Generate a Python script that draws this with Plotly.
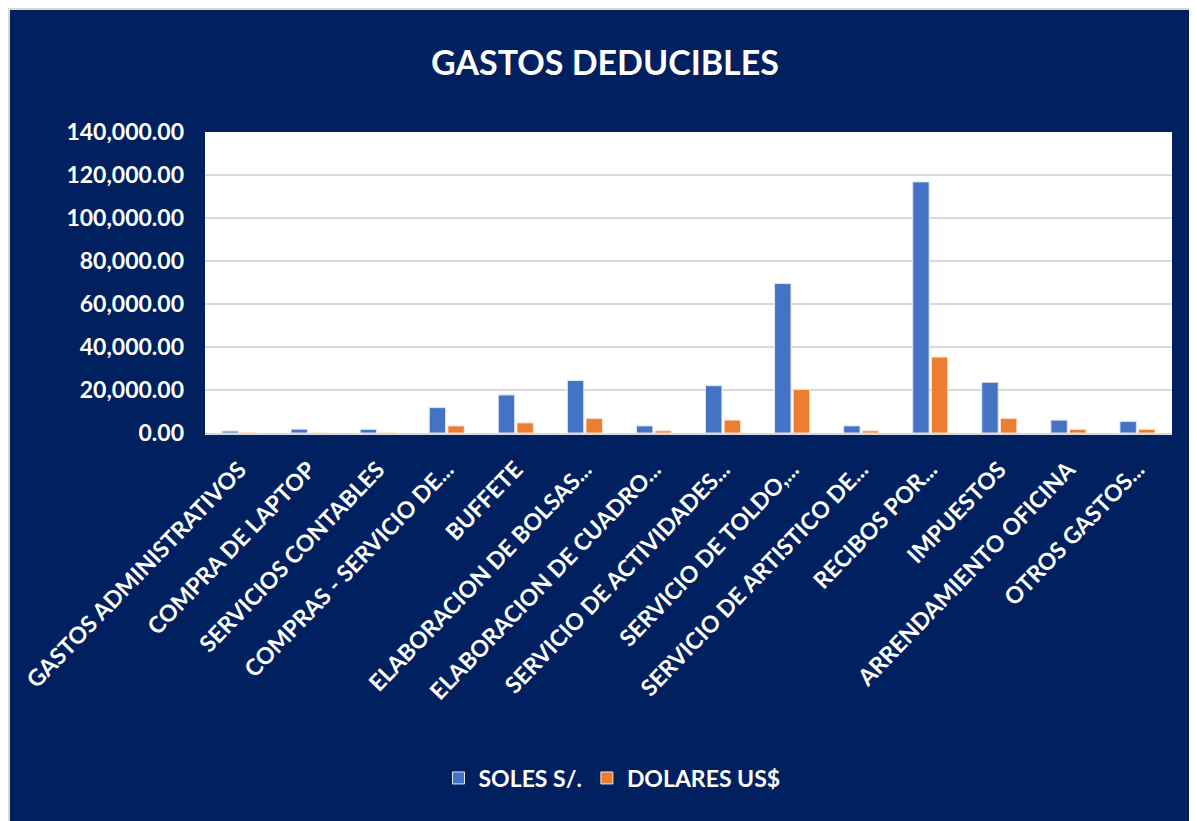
from plotly import graph_objects as go

categorias = [
    "GASTOS ADMINISTRATIVOS",
    "COMPRA DE LAPTOP",
    "SERVICIOS CONTABLES",
    "COMPRAS - SERVICIO DE...",
    "BUFFETE",
    "ELABORACION DE BOLSAS...",
    "ELABORACION DE CUADRO...",
    "SERVICIO DE ACTIVIDADES...",
    "SERVICIO DE TOLDO,...",
    "SERVICIO DE ARTISTICO DE...",
    "RECIBOS POR...",
    "IMPUESTOS",
    "ARRENDAMIENTO OFICINA",
    "OTROS GASTOS...",
]
soles = [900, 1800, 1700, 11800, 17700, 24400, 3300, 22000, 69500, 3300, 116800, 23600, 6000, 5400]
dolares = [200, 0, 0, 3300, 4700, 6800, 1000, 6000, 20300, 1000, 35300, 6800, 1700, 1700]
y_ticks = [0, 20000, 40000, 60000, 80000, 100000, 120000, 140000]

navy = "#002060"
fuente = "Lato"

# the page puts the figure 8px in from the top-left corner
OFF = 8
W, H = 1197 - OFF, 821 - OFF
# plot area in page pixels: x 205..1172, y 132..433
L, R, T, B = 205 - OFF, 1172 - OFF, 132 - OFF, 433 - OFF
pw, ph = R - L, B - T


def px_x(p):
    return (p - OFF - L) / pw


def px_y(p):
    return (B - (p - OFF)) / ph


fig = go.Figure()
fig.add_trace(go.Bar(
    name="SOLES S/.", x=categorias, y=soles,
    marker={"color": "#4472C4", "line": {"color": "#dfe6f5", "width": 1}},
))
fig.add_trace(go.Bar(
    name="DOLARES US$", x=categorias, y=dolares,
    marker={"color": "#ED7D31", "line": {"color": "#fbe3d3", "width": 1}},
))

fig.update_layout(
    width=W, height=H,
    margin={"l": L, "r": W - R, "t": T, "b": H - B},
    paper_bgcolor=navy,
    plot_bgcolor="white",
    barmode="group",
    bargap=0.46,
    bargroupgap=0.12,
    font={"family": fuente, "color": "white", "size": 22},
    title={
        "text": "<b>GASTOS DEDUCIBLES</b>",
        "x": (605 - OFF) / W, "xanchor": "center",
        "y": 1 - (63 - OFF) / H, "yanchor": "middle",
        "font": {"size": 34, "color": "white", "family": fuente},
    },
    legend={
        "orientation": "h",
        "x": px_x(612), "xanchor": "center",
        "y": px_y(778), "yanchor": "middle",
        "font": {"size": 23, "color": "white", "family": fuente, "weight": "bold"},
        "itemwidth": 30,
        "traceorder": "normal",
    },
    shapes=[
        # thin light border at the top and left edge of the chart
        {"type": "rect", "xref": "paper", "yref": "paper",
         "x0": px_x(OFF), "x1": px_x(1197), "y0": px_y(10), "y1": px_y(OFF),
         "fillcolor": "#d9d9d9", "line": {"width": 0}, "layer": "above"},
        {"type": "rect", "xref": "paper", "yref": "paper",
         "x0": px_x(OFF), "x1": px_x(10), "y0": px_y(821), "y1": px_y(OFF),
         "fillcolor": "#d9d9d9", "line": {"width": 0}, "layer": "above"},
    ],
)

fig.update_xaxes(
    tickangle=-46,
    tickfont={"size": 23, "color": "white", "family": fuente, "weight": "bold"},
    showline=True, linecolor="#d9d9d9", linewidth=2,
    ticks="",
    ticklabelstandoff=12,
)
fig.update_yaxes(
    range=[0, 140000],
    tickvals=y_ticks,
    tickformat=",.2f",
    tickfont={"size": 23, "color": "white", "family": fuente, "weight": "bold"},
    showgrid=True, gridcolor="#d9d9d9", gridwidth=2,
    zeroline=False,
    ticks="", ticklen=0,
    ticklabelstandoff=20,
)

fig.write_html("out.html")
